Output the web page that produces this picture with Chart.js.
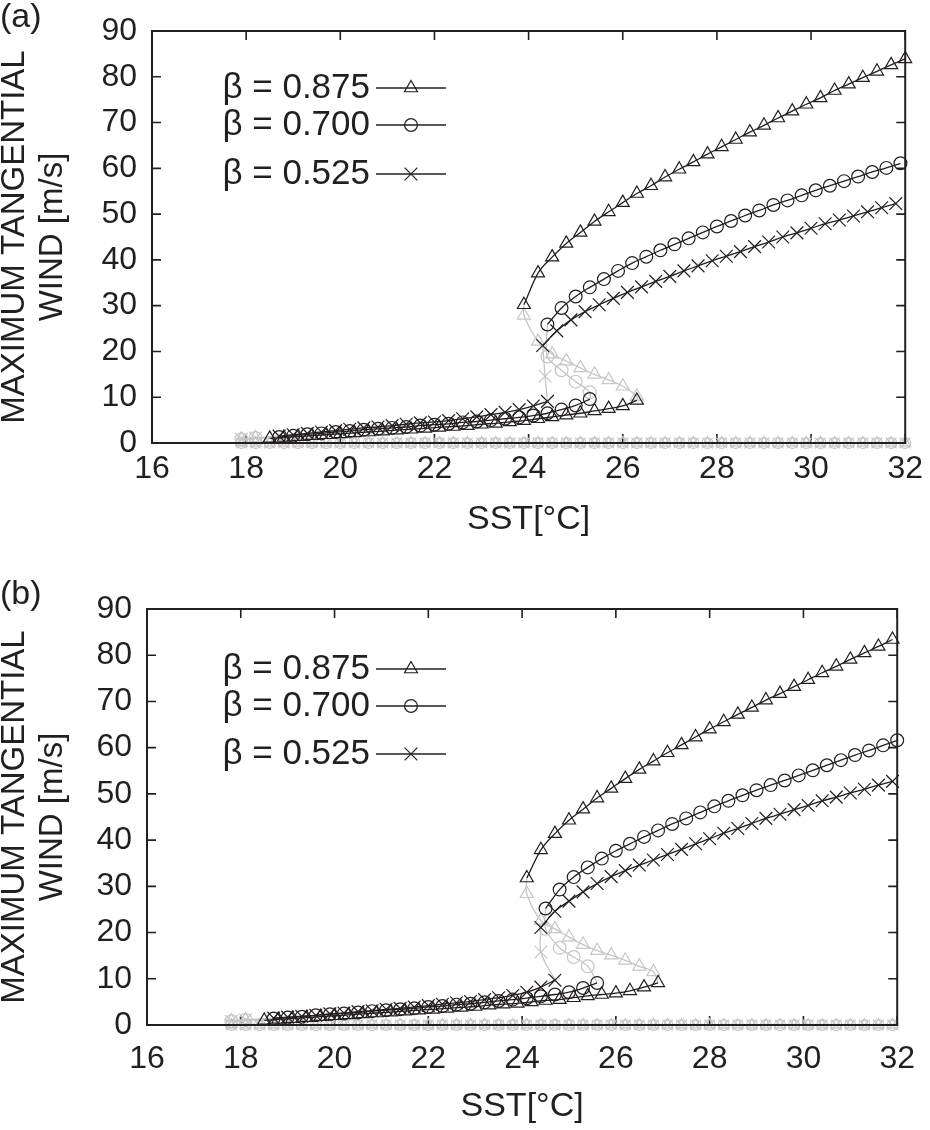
<!DOCTYPE html>
<html><head><meta charset="utf-8">
<script src="https://cdn.jsdelivr.net/npm/chart.js@4"></script>
<style>
html,body{margin:0;padding:0;background:#fff;}
.panel{position:relative;width:930px;height:565px;}
canvas{display:block;}
</style></head><body>
<div class="panel"><canvas id="ca" width="930" height="565"></canvas></div>
<div class="panel"><canvas id="cb" width="930" height="565"></canvas></div>
<script>
// ---------------- DATA ----------------
const xTicks = [16,18,20,22,24,26,28,30,32];
const yTicks = [0,10,20,30,40,50,60,70,80,90];
const seriesLabels = ['β = 0.875','β = 0.700','β = 0.525'];
const xTitle = 'SST[°C]';
const yTitle = ['MAXIMUM TANGENTIAL','WIND [m/s]'];

// ---- panel (a) ----
const a_tri_up_x = [23.9,24.2,24.5,24.8,25.1,25.4,25.7,26.0,26.3,26.6,26.9,27.2,27.5,27.8,28.1,28.4,28.7,29.0,29.3,29.6,29.9,30.2,30.5,30.8,31.1,31.4,31.7,32.0];
const a_tri_up_y = [30.2,37.1,40.6,43.6,46.0,48.4,50.5,52.5,54.5,56.2,58.1,59.8,61.4,63.1,64.7,66.3,67.9,69.4,71.0,72.5,74.0,75.4,77.0,78.4,79.8,81.2,82.6,83.9];
const a_cir_up_x = [24.4,24.7,25.0,25.3,25.6,25.9,26.2,26.5,26.8,27.1,27.4,27.7,28.0,28.3,28.6,28.9,29.2,29.5,29.8,30.1,30.4,30.7,31.0,31.3,31.6,31.9];
const a_cir_up_y = [25.9,29.5,32.0,34.0,35.8,37.6,39.3,40.7,42.1,43.4,44.7,46.0,47.3,48.5,49.7,50.8,52.0,53.0,54.1,55.2,56.2,57.2,58.2,59.2,60.1,61.1];
const a_crs_up_x = [24.3,24.6,24.9,25.2,25.5,25.8,26.1,26.4,26.7,27.0,27.3,27.6,27.9,28.2,28.5,28.8,29.1,29.4,29.7,30.0,30.3,30.6,30.9,31.2,31.5,31.8];
const a_crs_up_y = [21.3,24.5,26.9,28.7,30.2,31.6,32.9,34.1,35.3,36.4,37.6,38.7,39.8,40.8,41.8,42.9,43.9,45.0,45.9,46.9,47.9,48.7,49.6,50.5,51.4,52.3];

const a_tri_lo_x = [18.5,18.8,19.1,19.4,19.7,20.0,20.3,20.6,20.9,21.2,21.5,21.8,22.1,22.4,22.7,23.0,23.3,23.6,23.9,24.2,24.5,24.8,25.1,25.4,25.7,26.0,26.3];
const a_tri_lo_y = [1.0,1.2,1.4,1.6,1.8,2.0,2.2,2.4,2.6,2.8,3.0,3.2,3.4,3.6,3.8,4.1,4.3,4.6,4.9,5.3,5.7,6.1,6.5,7.0,7.5,8.1,9.3];
const a_cir_lo_x = [18.7,19.0,19.3,19.6,19.9,20.2,20.5,20.8,21.1,21.4,21.7,22.0,22.3,22.6,22.9,23.2,23.5,23.8,24.1,24.4,24.7,25.0,25.3];
const a_cir_lo_y = [1.3,1.6,1.9,2.1,2.4,2.6,2.9,3.1,3.3,3.5,3.8,4.0,4.2,4.5,4.7,5.0,5.3,5.6,6.0,6.5,7.3,8.2,9.6];
const a_crs_lo_x = [18.7,19.0,19.3,19.6,19.9,20.2,20.5,20.8,21.1,21.4,21.7,22.0,22.3,22.6,22.9,23.2,23.5,23.8,24.1,24.4];
const a_crs_lo_y = [1.5,1.8,2.1,2.4,2.7,3.0,3.3,3.5,3.8,4.1,4.4,4.6,4.9,5.3,5.7,6.2,6.7,7.3,8.1,9.1];

const a_tri_mid_x = [23.9,24.2,24.5,24.8,25.1,25.4,25.7,26.0,26.3];
const a_tri_mid_y = [27.9,22.2,19.4,17.9,16.4,15.0,13.8,12.4,10.2];
const a_cir_mid_x = [24.4,24.7,25.0,25.3];
const a_cir_mid_y = [18.9,15.9,13.4,11.1];
const a_crs_mid_x = [24.35];
const a_crs_mid_y = [14.6];

const a_ext_x = [17.9,18.2];
const a_ext_y = [0.8,1.1];
const a_zero_x = [17.9,18.2,18.5,18.8,19.1,19.4,19.7,20.0,20.3,20.6,20.9,21.2,21.5,21.8,22.1,22.4,22.7,23.0,23.3,23.6,23.9,24.2,24.5,24.8,25.1,25.4,25.7,26.0,26.3,26.6,26.9,27.2,27.5,27.8,28.1,28.4,28.7,29.0,29.3,29.6,29.9,30.2,30.5,30.8,31.1,31.4,31.7,32.0];
const a_zero_y = [0,0,0,0,0,0,0,0,0,0,0,0,0,0,0,0,0,0,0,0,0,0,0,0,0,0,0,0,0,0,0,0,0,0,0,0,0,0,0,0,0,0,0,0,0,0,0,0];

// ---- panel (b) ----
const b_tri_up_x = [24.1,24.4,24.7,25.0,25.3,25.6,25.9,26.2,26.5,26.8,27.1,27.4,27.7,28.0,28.3,28.6,28.9,29.2,29.5,29.8,30.1,30.4,30.7,31.0,31.3,31.6,31.9];
const b_tri_up_y = [31.8,37.9,41.4,44.3,46.7,49.1,51.2,53.3,55.3,57.1,58.9,60.6,62.3,64.0,65.6,67.2,68.7,70.3,71.7,73.2,74.7,76.2,77.6,79.1,80.5,81.9,83.4];
const b_cir_up_x = [24.5,24.8,25.1,25.4,25.7,26.0,26.3,26.6,26.9,27.2,27.5,27.8,28.1,28.4,28.7,29.0,29.3,29.6,29.9,30.2,30.5,30.8,31.1,31.4,31.7,32.0];
const b_cir_up_y = [25.2,29.3,32.0,34.1,36.0,37.7,39.2,40.7,42.1,43.5,44.7,46.0,47.3,48.5,49.7,50.8,51.9,52.9,54.0,55.1,56.2,57.3,58.4,59.4,60.5,61.6];
const b_crs_up_x = [24.4,24.7,25.0,25.3,25.6,25.9,26.2,26.5,26.8,27.1,27.4,27.7,28.0,28.3,28.6,28.9,29.2,29.5,29.8,30.1,30.4,30.7,31.0,31.3,31.6,31.9];
const b_crs_up_y = [21.1,24.6,26.8,28.8,30.6,32.1,33.4,34.6,35.7,36.9,38.0,39.2,40.3,41.5,42.5,43.6,44.7,45.6,46.6,47.5,48.5,49.3,50.2,51.0,51.9,52.7];

const b_tri_lo_x = [18.5,18.8,19.1,19.4,19.7,20.0,20.3,20.6,20.9,21.2,21.5,21.8,22.1,22.4,22.7,23.0,23.3,23.6,23.9,24.2,24.5,24.8,25.1,25.4,25.7,26.0,26.3,26.6,26.9];
const b_tri_lo_y = [1.0,1.2,1.4,1.6,1.8,2.0,2.2,2.4,2.6,2.8,3.0,3.2,3.4,3.6,3.8,4.0,4.3,4.5,4.7,5.0,5.3,5.5,5.9,6.3,6.6,6.9,7.4,8.2,9.1];
const b_cir_lo_x = [18.7,19.0,19.3,19.6,19.9,20.2,20.5,20.8,21.1,21.4,21.7,22.0,22.3,22.6,22.9,23.2,23.5,23.8,24.1,24.4,24.7,25.0,25.3,25.6];
const b_cir_lo_y = [1.4,1.6,1.8,2.1,2.3,2.5,2.7,3.0,3.2,3.4,3.6,3.9,4.1,4.4,4.6,4.9,5.2,5.5,5.8,6.2,6.6,7.1,8.0,9.1];
const b_crs_lo_x = [18.7,19.0,19.3,19.6,19.9,20.2,20.5,20.8,21.1,21.4,21.7,22.0,22.3,22.6,22.9,23.2,23.5,23.8,24.1,24.4,24.7];
const b_crs_lo_y = [1.5,1.7,1.9,2.1,2.4,2.6,2.9,3.1,3.4,3.6,3.9,4.2,4.5,4.8,5.1,5.5,5.9,6.4,7.1,8.2,9.7];

const b_tri_mid_x = [24.1,24.4,24.7,25.0,25.3,25.6,25.9,26.2,26.5,26.8];
const b_tri_mid_y = [28.4,22.6,20.8,19.0,17.4,16.1,15.1,14.0,12.7,11.5];
const b_cir_mid_x = [24.5,24.8,25.1,25.4];
const b_cir_mid_y = [20.8,16.7,14.7,12.7];
const b_crs_mid_x = [24.4];
const b_crs_mid_y = [15.8];

const b_ext_x = [17.8,18.1];
const b_ext_y = [0.8,1.1];
const b_zero_x = [17.8,18.1,18.4,18.7,19.0,19.3,19.6,19.9,20.2,20.5,20.8,21.1,21.4,21.7,22.0,22.3,22.6,22.9,23.2,23.5,23.8,24.1,24.4,24.7,25.0,25.3,25.6,25.9,26.2,26.5,26.8,27.1,27.4,27.7,28.0,28.3,28.6,28.9,29.2,29.5,29.8,30.1,30.4,30.7,31.0,31.3,31.6,31.9];
const b_zero_y = [0,0,0,0,0,0,0,0,0,0,0,0,0,0,0,0,0,0,0,0,0,0,0,0,0,0,0,0,0,0,0,0,0,0,0,0,0,0,0,0,0,0,0,0,0,0,0,0];

// ---------------- STYLE / BUILD ----------------
const FONT = '"Liberation Sans", Arial, Helvetica, sans-serif';
const INK = '#231f20';
const GRAY = '#c6c6c6';
const STYLES = [
  {pointStyle:'triangle', radius:7.5},
  {pointStyle:'circle', radius:6.4},
  {pointStyle:'crossRot', radius:9}
];

function pts(xs, ys){ return xs.map((x,i)=>({x:x, y:ys[i]})); }

function buildDatasets(P){
  const ds = [];
  const groups = [
    {up:pts(P.tri_up_x,P.tri_up_y), lo:pts(P.tri_lo_x,P.tri_lo_y), mid:pts(P.tri_mid_x,P.tri_mid_y)},
    {up:pts(P.cir_up_x,P.cir_up_y), lo:pts(P.cir_lo_x,P.cir_lo_y), mid:pts(P.cir_mid_x,P.cir_mid_y)},
    {up:pts(P.crs_up_x,P.crs_up_y), lo:pts(P.crs_lo_x,P.crs_lo_y), mid:pts(P.crs_mid_x,P.crs_mid_y)}
  ];
  const zero = pts(P.zero_x, P.zero_y);
  const ext = pts(P.ext_x, P.ext_y);
  groups.forEach((g,i)=>{
    const st = STYLES[i];
    const black = {
      type:'scatter', showLine:true, borderColor:INK, borderWidth:1.3,
      pointStyle:st.pointStyle, pointRadius:st.radius, pointBorderColor:INK,
      pointBorderWidth:1.2, pointBackgroundColor:'rgba(0,0,0,0)',
      cubicInterpolationMode:'monotone', clip:14, order:1
    };
    ds.push(Object.assign({label:seriesLabels[i]+' upper', data:g.up}, black));
    ds.push(Object.assign({label:seriesLabels[i]+' lower', data:g.lo}, black));
    const midData = [g.up[0]].concat(g.mid, [g.lo[g.lo.length-1]]);
    ds.push({
      label:seriesLabels[i]+' unstable', data:midData, type:'scatter', showLine:true,
      borderColor:GRAY, borderWidth:1.3, tension:0.35,
      pointStyle:st.pointStyle, pointBorderColor:GRAY, pointBorderWidth:1.2,
      pointBackgroundColor:'rgba(0,0,0,0)',
      pointRadius:(c)=> (c.dataIndex===0 || c.dataIndex===midData.length-1) ? 0 : st.radius,
      clip:14, order:2
    });
    const extData = ext.concat([g.lo[0]]);
    ds.push({
      label:seriesLabels[i]+' ext', data:extData, type:'scatter', showLine:true,
      borderColor:GRAY, borderWidth:1.3,
      pointStyle:st.pointStyle, pointBorderColor:GRAY, pointBorderWidth:1.2,
      pointBackgroundColor:'rgba(0,0,0,0)',
      pointRadius:(c)=> (c.dataIndex===extData.length-1) ? 0 : st.radius,
      clip:14, order:3
    });
    ds.push({
      label:seriesLabels[i]+' trivial', data:zero, type:'scatter', showLine:true,
      borderColor:GRAY, borderWidth:1.3,
      pointStyle:st.pointStyle, pointRadius:st.radius*0.85, pointBorderColor:GRAY,
      pointBorderWidth:1.2, pointBackgroundColor:'rgba(0,0,0,0)',
      clip:14, order:3
    });
  });
  return ds;
}

function drawMarker(ctx, style, r, x, y){
  ctx.beginPath();
  if (style==='circle'){ ctx.arc(x,y,r,0,Math.PI*2); }
  else if (style==='triangle'){
    for (let k=0;k<3;k++){ const a=k*2*Math.PI/3; const px=x+Math.sin(a)*r, py=y-Math.cos(a)*r; k?ctx.lineTo(px,py):ctx.moveTo(px,py);} ctx.closePath();
  } else { const d=r*Math.SQRT1_2; ctx.moveTo(x-d,y-d);ctx.lineTo(x+d,y+d);ctx.moveTo(x+d,y-d);ctx.lineTo(x-d,y+d); }
  ctx.stroke();
}

const deco = {
  id:'deco',
  beforeDatasetsDraw(chart){
    const {ctx, chartArea:a, scales:{x, y}} = chart;
    ctx.save();
    ctx.strokeStyle = INK; ctx.lineWidth = 1.6;
    ctx.beginPath();
    xTicks.forEach(v=>{ const px=x.getPixelForValue(v);
      ctx.moveTo(px,a.bottom); ctx.lineTo(px,a.bottom-9);
      ctx.moveTo(px,a.top); ctx.lineTo(px,a.top+9); });
    yTicks.forEach(v=>{ const py=y.getPixelForValue(v);
      ctx.moveTo(a.left,py); ctx.lineTo(a.left+9,py);
      ctx.moveTo(a.right,py); ctx.lineTo(a.right-9,py); });
    ctx.stroke();
    ctx.restore();
  },
  afterDatasetsDraw(chart){
    const {ctx, chartArea:a} = chart;
    ctx.save();
    ctx.strokeStyle = INK; ctx.lineWidth = 2;
    ctx.strokeRect(a.left, a.top, a.right-a.left, a.bottom-a.top);
    ctx.restore();
  },
  afterDraw(chart, args, o){
    const ctx = chart.ctx;
    ctx.save();
    ctx.fillStyle = INK;
    ctx.font = '34px ' + FONT;
    ctx.textAlign = 'left'; ctx.textBaseline = 'middle';
    ctx.fillText(o.panel, 0, o.panelY);
    ctx.font = '35px ' + FONT;
    ctx.textAlign = 'right';
    seriesLabels.forEach((lab,i)=>{
      const yy = o.rows[i];
      ctx.fillStyle = INK;
      ctx.fillText(lab, o.textRight, yy);
      ctx.strokeStyle = INK; ctx.lineWidth = 1.3;
      ctx.beginPath(); ctx.moveTo(o.lineX1, yy); ctx.lineTo(o.lineX2, yy); ctx.stroke();
      ctx.lineWidth = 1.2;
      drawMarker(ctx, STYLES[i].pointStyle, STYLES[i].radius, (o.lineX1+o.lineX2)/2, yy);
    });
    ctx.restore();
  }
};

function makeChart(id, P, L){
  return new Chart(document.getElementById(id), {
    type:'scatter',
    data:{datasets:buildDatasets(P)},
    plugins:[deco],
    options:{
      responsive:false, animation:false, events:[],
      layout:{padding:{top:L.top, right:L.right, left:0, bottom:0}},
      plugins:{
        legend:{display:false}, tooltip:{enabled:false},
        deco:{panel:L.panel, panelY:L.panelY, rows:L.rows, textRight:370, lineX1:376, lineX2:446}
      },
      scales:{
        x:{type:'linear', min:16, max:32,
           grid:{display:false, drawTicks:false}, border:{display:false},
           ticks:{stepSize:2, autoSkip:false, color:INK, font:{family:FONT, size:32}, padding:L.xPad, maxRotation:0},
           title:{display:true, text:xTitle, color:INK, font:{family:FONT, size:34}, padding:{top:0, bottom:L.xTitlePad}},
           afterFit:(s)=>{ s.height = L.xH; }},
        y:{type:'linear', min:0, max:90,
           grid:{display:false, drawTicks:false}, border:{display:false},
           ticks:{stepSize:10, autoSkip:false, color:INK, font:{family:FONT, size:32, lineHeight:1.0}, padding:15},
           title:{display:true, text:yTitle, color:INK, font:{family:FONT, size:33, lineHeight:1.15}, padding:{top:-4, bottom:0}},
           afterFit:(s)=>{ s.width = L.yW; }}
      }
    }
  });
}

const PA = {tri_up_x:a_tri_up_x,tri_up_y:a_tri_up_y,cir_up_x:a_cir_up_x,cir_up_y:a_cir_up_y,crs_up_x:a_crs_up_x,crs_up_y:a_crs_up_y,
  tri_lo_x:a_tri_lo_x,tri_lo_y:a_tri_lo_y,cir_lo_x:a_cir_lo_x,cir_lo_y:a_cir_lo_y,crs_lo_x:a_crs_lo_x,crs_lo_y:a_crs_lo_y,
  tri_mid_x:a_tri_mid_x,tri_mid_y:a_tri_mid_y,cir_mid_x:a_cir_mid_x,cir_mid_y:a_cir_mid_y,crs_mid_x:a_crs_mid_x,crs_mid_y:a_crs_mid_y,
  ext_x:a_ext_x,ext_y:a_ext_y,zero_x:a_zero_x,zero_y:a_zero_y};
const PB = {tri_up_x:b_tri_up_x,tri_up_y:b_tri_up_y,cir_up_x:b_cir_up_x,cir_up_y:b_cir_up_y,crs_up_x:b_crs_up_x,crs_up_y:b_crs_up_y,
  tri_lo_x:b_tri_lo_x,tri_lo_y:b_tri_lo_y,cir_lo_x:b_cir_lo_x,cir_lo_y:b_cir_lo_y,crs_lo_x:b_crs_lo_x,crs_lo_y:b_crs_lo_y,
  tri_mid_x:b_tri_mid_x,tri_mid_y:b_tri_mid_y,cir_mid_x:b_cir_mid_x,cir_mid_y:b_cir_mid_y,crs_mid_x:b_crs_mid_x,crs_mid_y:b_crs_mid_y,
  ext_x:b_ext_x,ext_y:b_ext_y,zero_x:b_zero_x,zero_y:b_zero_y};

makeChart('ca', PA, {panel:'(a)', panelY:18, top:25, right:18, yW:152, xH:122, xPad:7, xTitlePad:25, rows:[88,125,174]});
makeChart('cb', PB, {panel:'(b)', panelY:30, top:44, right:23, yW:147, xH:105, xPad:15, xTitlePad:3, rows:[104,141,189]});
</script>
</body></html>
